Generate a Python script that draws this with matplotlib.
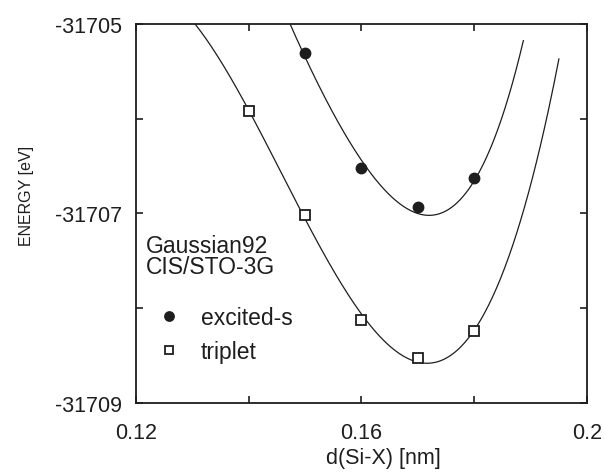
import matplotlib
matplotlib.use('Agg')
import matplotlib.pyplot as plt
import numpy as np

# Data
# ----------------------------------------------------------------------------

d_excited = np.array([0.15, 0.16, 0.17, 0.18])                      # d(Si-X) [nm]
e_excited = np.array([-31705.31, -31706.52, -31706.93, -31706.63])  # [eV]

d_triplet = np.array([0.14, 0.15, 0.16, 0.17, 0.18])
e_triplet = np.array([-31705.92, -31707.02, -31708.12, -31708.53, -31708.24])

# the excited-s fit curve is not a plain cubic through the points, so it is
# read off the picture as well
curve_d_excited = np.array([0.1471, 0.150, 0.160, 0.170, 0.1714, 0.180, 0.185, 0.1887])
curve_e_excited = np.array([-31705.00, -31705.30, -31706.48, -31706.98,
                            -31707.02, -31706.63, -31706.02, -31705.155])

# range over which the fitted curves are drawn [nm]
fit_range_excited = (0.140, 0.1887)
fit_range_triplet = (0.125, 0.195)

xticks = [0.12, 0.14, 0.16, 0.18, 0.2]
xticklabels = ['0.12', '', '0.16', '', '0.2']
yticks = [-31709, -31708, -31707, -31706, -31705]
yticklabels = ['-31709', '', '-31707', '', '-31705']

# Least squares fit of each energy curve
# ----------------------------------------------------------------------------

fit_excited = np.polynomial.Polynomial.fit(curve_d_excited, curve_e_excited, 4)
fit_triplet = np.polynomial.Polynomial.fit(d_triplet, e_triplet, 3)

x_exc = np.linspace(*fit_range_excited, 300)
x_tri = np.linspace(*fit_range_triplet, 300)

# Plot
# ----------------------------------------------------------------------------

plt.rcParams['font.family'] = ['Liberation Sans', 'DejaVu Sans']
ink = '#1e1e1e'

fig = plt.figure(figsize=(6.04, 4.77), dpi=100)
ax = fig.add_axes([0.225, 0.153, 0.747, 0.795])

ax.plot(x_exc, fit_excited(x_exc), color=ink, lw=0.9)
ax.plot(x_tri, fit_triplet(x_tri), color=ink, lw=0.9)
ax.plot(d_excited, e_excited, 'o', color=ink, ms=7.5, label='excited-s')
ax.plot(d_triplet, e_triplet, 's', mfc='white', mec=ink, mew=1.3, ms=6.5,
        label='triplet')

ax.set_xlim(0.12, 0.2)
ax.set_ylim(-31709, -31705)
ax.set_xticks(xticks, xticklabels)
ax.set_yticks(yticks, yticklabels)
ax.tick_params(direction='in', top=True, right=True, length=5, width=1.2,
               color=ink, labelsize=15.5, labelcolor=ink)
ax.tick_params(axis='x', pad=14)
ax.tick_params(axis='y', pad=10)
for s in ax.spines.values():
    s.set_linewidth(1.3)
    s.set_color(ink)

ax.set_xlabel('d(Si-X) [nm]', fontsize=15.5, color=ink)
ax.xaxis.set_label_coords(0.548, -0.115)
ax.set_ylabel('ENERGY [eV]', fontsize=11.5, color=ink)
ax.yaxis.set_label_coords(-0.225, 0.549)

ax.text(0.022, 0.445, 'Gaussian92\nCIS/STO-3G', transform=ax.transAxes,
        fontsize=16.5, color=ink, va='top', ha='left', linespacing=0.85)

ax.legend(loc='upper left', bbox_to_anchor=(0.048, 0.255), frameon=False,
          fontsize=16.5, handlelength=1.0, handletextpad=0.9, labelspacing=0.45,
          labelcolor=ink, borderaxespad=0, borderpad=0, markerscale=0.9)

fig.savefig('out.png', dpi=100)
